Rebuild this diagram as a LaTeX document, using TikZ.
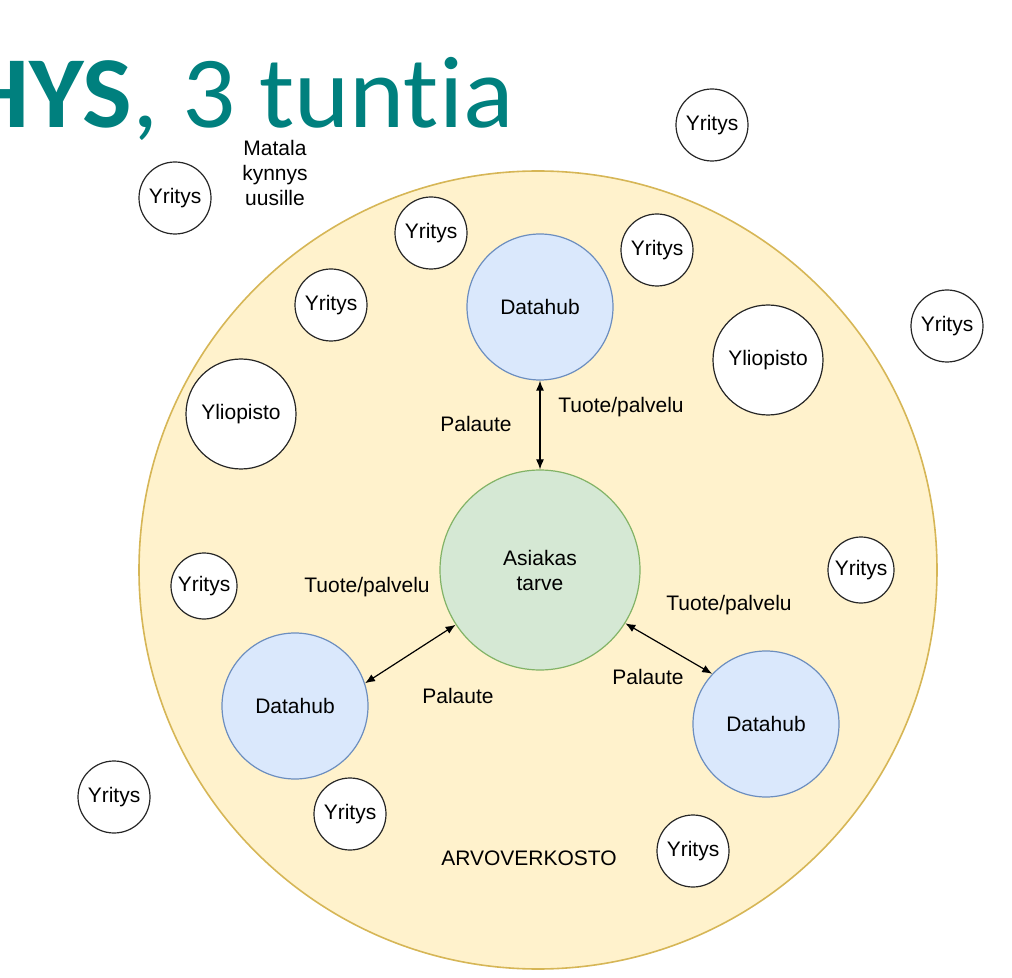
\documentclass[tikz,border=0pt]{standalone}
\usepackage{fontspec}
\setmainfont{Liberation Sans}
\newfontfamily\titlefont[Ligatures=NoCommon]{Carlito}
\usetikzlibrary{arrows.meta}
\definecolor{netfill}{HTML}{FFF2CC}
\definecolor{netline}{HTML}{D6B656}
\definecolor{hubfill}{HTML}{DAE8FC}
\definecolor{hubline}{HTML}{6C8EBF}
\definecolor{needfill}{HTML}{D5E8D4}
\definecolor{needline}{HTML}{82B366}
\definecolor{titleteal}{HTML}{00807E}
\tikzset{
  network/.style={
    circle, draw=netline, fill=netfill, line width=0.8pt,
    minimum size=399pt, inner sep=0pt
  },
  yritys/.style={
    circle, draw=black!85, fill=white, line width=0.6pt,
    minimum size=36pt, inner sep=0pt
  },
  yliopisto/.style={
    circle, draw=black!85, fill=white, line width=0.6pt,
    minimum size=55pt, inner sep=0pt
  },
  datahub/.style={
    circle, draw=hubline, fill=hubfill, line width=0.6pt,
    minimum size=73pt, inner sep=0pt
  },
  tarve/.style={
    circle, draw=needline, fill=needfill, line width=0.6pt,
    minimum size=100pt, inner sep=0pt, align=center
  },
  lbl/.style={inner sep=0pt, align=center},
  arrow/.style={
    {Latex[length=5pt,width=4pt]}-{Latex[length=5pt,width=4pt]}, line width=0.6pt
  }
}

\begin{document}
\begin{tikzpicture}[x=0.5pt, y=-0.5pt,
  font=\fontsize{10.5}{12.5}\selectfont]

\useasboundingbox (0,0) rectangle (1012,978);

% otsikko
\node[anchor=base west, inner sep=0pt, text=titleteal, xscale=1.03, transform shape,
  font=\titlefont\fontsize{51}{60}\selectfont] (title) at (-37,128)
  {\textbf{HYS}, 3 tuntia};

% arvoverkosto
\node[network] (net) at (538,570) {};
\node[lbl] (arvo) at (529,858) {ARVOVERKOSTO};

\node[lbl] (matala) at (275,173) {Matala\\kynnys\\uusille};

% yritykset ja yliopistot
\node[yritys] (y1) at (712,125) {Yritys};
\node[yritys] (y2) at (175,198) {Yritys};
\node[yritys] (y3) at (431,233) {Yritys};
\node[yritys] (y4) at (657,250) {Yritys};
\node[yritys] (y5) at (331,305) {Yritys};
\node[yritys] (y6) at (947,326) {Yritys};
\node[yritys, minimum size=33pt] (y7) at (861,570) {Yritys};
\node[yritys, minimum size=33pt] (y8) at (204,586) {Yritys};
\node[yritys] (y9) at (114,797) {Yritys};
\node[yritys] (y10) at (350,814) {Yritys};
\node[yritys] (y11) at (693,851) {Yritys};
\node[yliopisto] (uni1) at (768,360) {Yliopisto};
\node[yliopisto] (uni2) at (241,414) {Yliopisto};

% datahubit ja asiakastarve
\node[datahub] (hubT) at (540,307) {Datahub};
\node[datahub] (hubL) at (295,706) {Datahub};
\node[datahub] (hubR) at (766,724) {Datahub};
\node[tarve] (need) at (540,570) {Asiakas\\tarve};

\draw[arrow] (hubT) -- (need);
\draw[arrow] (hubL.18) -- (need.213);
\draw[arrow] (need.328) -- (hubR.137);

\node[lbl] (pal1) at (476,424) {Palaute};
\node[lbl] (tp1) at (621,407) {Tuote/palvelu};
\node[lbl] (tp2) at (367,587) {Tuote/palvelu};
\node[lbl] (pal2) at (458,696) {Palaute};
\node[lbl] (tp3) at (729,605) {Tuote/palvelu};
\node[lbl] (pal3) at (648,677) {Palaute};

\end{tikzpicture}
\end{document}
